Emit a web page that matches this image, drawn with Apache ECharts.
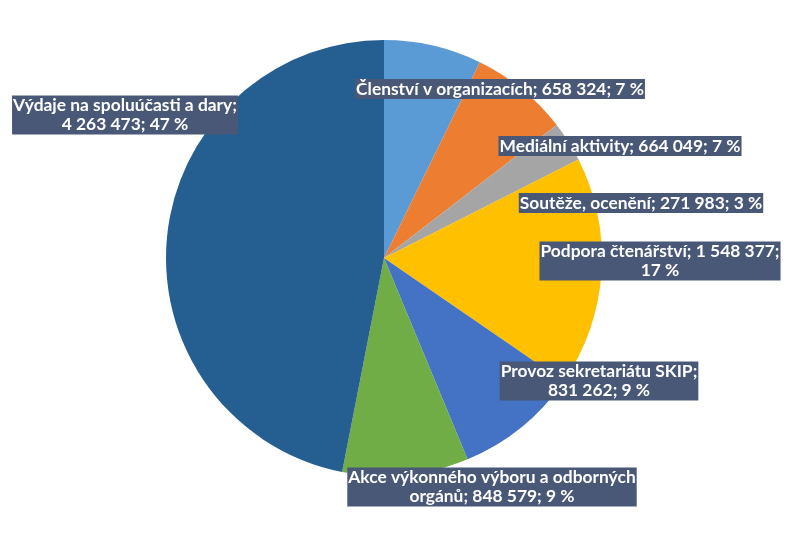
<!DOCTYPE html>
<html><head><meta charset="utf-8">
<script src="https://cdn.jsdelivr.net/npm/echarts@6/dist/echarts.min.js"></script>
<style>html,body{margin:0;padding:0;background:#fff}#c{width:800px;height:553px}</style>
</head><body><div id="c"></div>
<script>
const categories = ['Členství v organizacích','Mediální aktivity','Soutěže, ocenění','Podpora čtenářství','Provoz sekretariátu SKIP','Akce výkonného výboru a odborných orgánů','Výdaje na spoluúčasti a dary'];
const values = [658324, 664049, 271983, 1548377, 831262, 848579, 4263473];
const percents = ['7 %','7 %','3 %','17 %','9 %','9 %','47 %'];
const valueLabels = ['658 324','664 049','271 983','1 548 377','831 262','848 579','4 263 473'];
const labelTexts = [
  'Členství v organizacích; 658 324; 7 %',
  'Mediální aktivity; 664 049; 7 %',
  'Soutěže, ocenění; 271 983; 3 %',
  'Podpora čtenářství; 1 548 377;\n17 %',
  'Provoz sekretariátu SKIP;\n831 262; 9 %',
  'Akce výkonného výboru a odborných\norgánů; 848 579; 9 %',
  'Výdaje na spoluúčasti a dary;\n4 263 473; 47 %'
];
const colors = ['#5b9bd5','#ed7d31','#a5a5a5','#ffc000','#4472c4','#70ad47','#255e91'];
const labelPos = [[500,89],[620,146],[641,203],[660,261],[599,381],[492,487],[125,115]];

const chart = echarts.init(document.getElementById('c'), null, {renderer:'canvas'});
chart.setOption({
  animation:false,
  series:[{
    type:'pie',
    center:[384,258],
    radius:[0,218],
    startAngle:90,
    clockwise:true,
    data: categories.map((n,i)=>({name:n,value:values[i],itemStyle:{color:colors[i]}})),
    itemStyle:{borderWidth:0},
    label:{
      show:true,
      position:'inside',
      formatter:(p)=>labelTexts[p.dataIndex],
      color:'#fff',
      fontFamily:'Lato',
      fontWeight:'bold',
      fontSize:17.4,
      lineHeight:19,
      align:'center',
      backgroundColor:'#4a5877',
      padding:[1,1,0,1]
    },
    labelLine:{show:false},
    labelLayout:(params)=>{
      const p = labelPos[params.dataIndex];
      return {x:p[0], y:p[1], align:'center', verticalAlign:'middle'};
    }
  }]
});
</script></body></html>
